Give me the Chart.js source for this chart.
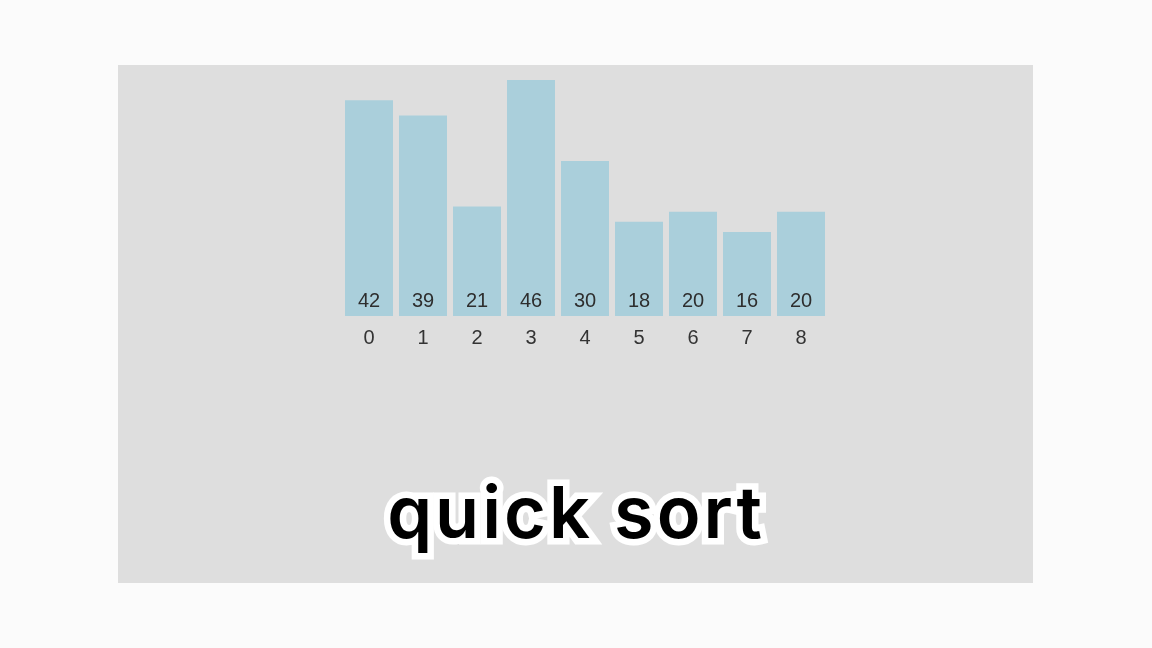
<!DOCTYPE html>
<html>
<head>
<meta charset="utf-8">
<script src="https://cdn.jsdelivr.net/npm/chart.js@4/dist/chart.umd.min.js"></script>
<style>
  html, body { margin: 0; padding: 0; }
  body { width: 1152px; height: 648px; background: #fbfbfb; position: relative; overflow: hidden; }
  #panel { position: absolute; left: 118px; top: 65px; width: 915px; height: 518px; background: #dedede; }
  #chart { position: absolute; left: 118px; top: 65px; }
  .cap { position: absolute; left: 0; width: 1152px; top: 462px; text-align: center; letter-spacing: 3px;
         font-family: Inter, "Open Sans", sans-serif; font-weight: 600; font-size: 72px; line-height: 100px; }
  #capStroke { color: #fff; -webkit-text-stroke: 13px #fff; }
  #capFill { color: #000; }
</style>
</head>
<body>
<div id="panel"></div>
<canvas id="chart" width="915" height="518"></canvas>
<div class="cap" id="capStroke"></div>
<div class="cap" id="capFill"></div>
<script>
const categories = ['0', '1', '2', '3', '4', '5', '6', '7', '8'];
const values = [42, 39, 21, 46, 30, 18, 20, 16, 20];
const captionText = 'quick sort';

document.getElementById('capStroke').textContent = captionText;
document.getElementById('capFill').textContent = captionText;

const valueLabels = {
  id: 'valueLabels',
  afterDatasetsDraw(chart) {
    const ctx = chart.ctx;
    const meta = chart.getDatasetMeta(0);
    ctx.save();
    ctx.font = '20px "Liberation Sans", Arial, sans-serif';
    ctx.fillStyle = '#2e2e2e';
    ctx.textAlign = 'center';
    ctx.textBaseline = 'middle';
    meta.data.forEach((bar, i) => {
      ctx.fillText(String(values[i]), bar.x, bar.base - 15);
    });
    ctx.restore();
  }
};

new Chart(document.getElementById('chart'), {
  type: 'bar',
  data: {
    labels: categories,
    datasets: [{
      data: values,
      backgroundColor: '#aacfdb',
      borderWidth: 0,
      base: -0.6,
      barPercentage: 1,
      categoryPercentage: 48 / 54
    }]
  },
  options: {
    responsive: false,
    animation: false,
    devicePixelRatio: 1,
    layout: { padding: { left: 224, right: 205, top: 15, bottom: 237 } },
    plugins: { legend: { display: false }, tooltip: { enabled: false }, title: { display: false } },
    scales: {
      x: {
        grid: { display: false, drawTicks: false },
        border: { display: false },
        ticks: { color: '#333', padding: 10, font: { family: '"Liberation Sans", Arial, sans-serif', size: 20 } },
        afterFit(scale) { scale.height = 30; }
      },
      y: { display: false, min: -0.6, max: 46 }
    }
  },
  plugins: [valueLabels]
});
</script>
</body>
</html>
